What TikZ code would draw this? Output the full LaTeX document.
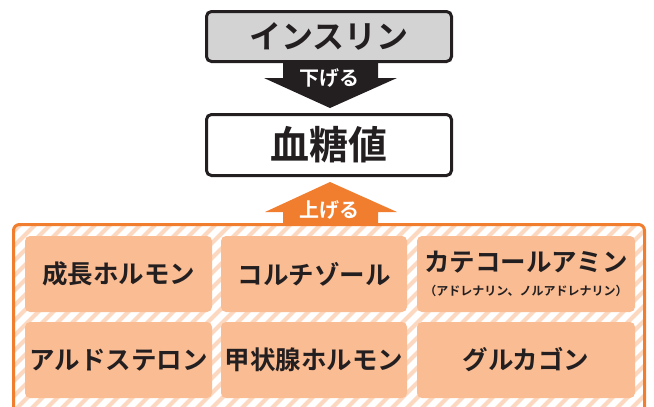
\documentclass[tikz,border=0pt]{standalone}
\usepackage{fontspec}
\newfontfamily\jp{Noto Sans CJK JP}[BoldFont={Noto Sans CJK JP Bold}]
\usetikzlibrary{positioning}
\definecolor{ink}{HTML}{231F20}
\definecolor{grayfill}{HTML}{D3D3D3}
\definecolor{orangeline}{HTML}{F07E2E}
\definecolor{peach}{HTML}{F9BC93}
\definecolor{stripe}{HTML}{FCD8C0}
\tikzset{
  topbox/.style={draw=ink, line width=3pt, rounded corners=5pt, minimum width=245pt,
    text=ink, font=\jp\bfseries\fontsize{32}{34}\selectfont},
  hormone/.style={fill=peach, rounded corners=5pt, text=ink, align=center,
    font=\jp\bfseries\fontsize{25.5}{27}\selectfont, minimum height=76pt},
  arrowlabel/.style={text=white, font=\jp\bfseries\fontsize{20}{22}\selectfont, inner sep=0pt},
  hatch/.style={stripe, line width=4pt}
}
\begin{document}
\begin{tikzpicture}[x=1pt,y=-1pt]
                    \useasboundingbox (0,0) rectangle (654,407);

                    \node[topbox, fill=grayfill, minimum height=50pt] (insulin) at (329,36.5) {インスリン};
                    \node[topbox, fill=white, minimum height=61pt,
                          font=\jp\bfseries\fontsize{39}{41}\selectfont] (bloodsugar) at (329,145) {血糖値};

                    % 下げる
                    \coordinate (downtip) at (330,108);
                    \fill[ink] (283,61) -- (378,61) -- (378,78) -- (397,78) -- (downtip)
                        -- (264,78) -- (283,78) -- cycle;
                    \node[arrowlabel] (lower) at (329,78) {下げる};

                    % hormone frame
                    \begin{scope}
                      \clip[rounded corners=6pt] (13.5,224.5) rectangle (644.5,440);
                      \fill[white] (0,200) rectangle (654,440);
                      \foreach \i in {-420,-405,...,660}
                        \draw[hatch] (\i,440) -- ++(240,-240);
                    \end{scope}
                    \draw[orangeline, line width=3pt, rounded corners=6pt] (13.5,224.5) rectangle (644.5,440);

                    % 上げる
                    \coordinate (uptip) at (330,182);
                    \fill[orangeline] (283,224) -- (283,212) -- (265,212) -- (uptip)
                        -- (397,212) -- (378,212) -- (378,224) -- cycle;
                    \node[arrowlabel] (raise) at (329,210) {上げる};

                    \node[hormone, minimum width=187pt] (growth) at (118.5,274) {成長ホルモン};
                    \node[hormone, minimum width=186pt] (cortisol) at (314,274) {コルチゾール};
                    \node[hormone, minimum width=218pt] (catechol) at (526,274)
                        {カテコールアミン\\[-3pt]{\fontsize{12}{13}\selectfont（アドレナリン、ノルアドレナリン）}};
                    \node[hormone, minimum width=187pt] (aldo) at (118.5,360) {アルドステロン};
                    \node[hormone, minimum width=186pt] (thyroid) at (314,360) {甲状腺ホルモン};
                    \node[hormone, minimum width=218pt] (glucagon) at (526,360) {グルカゴン};

                \end{tikzpicture}
\end{document}
